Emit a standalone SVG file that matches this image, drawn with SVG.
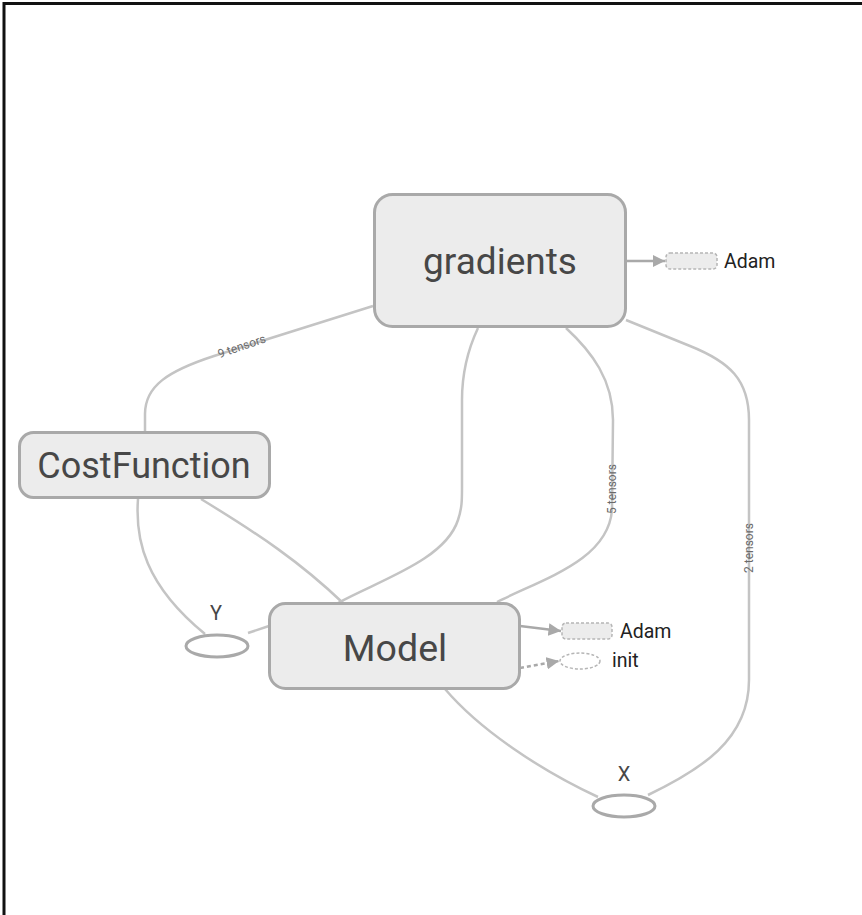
<svg xmlns="http://www.w3.org/2000/svg" width="862" height="915" viewBox="0 0 862 915">
  <style>
    .node { fill: #ececec; stroke: #a9a9a9; stroke-width: 3; }
    .label { font-family: Roboto, "Liberation Sans", sans-serif; fill: #474747; text-anchor: middle; }
    .small { font-family: Roboto, "Liberation Sans", sans-serif; fill: #222; font-size: 19.5px; }
    .edge { fill: none; stroke: #c4c4c4; stroke-width: 2.5; }
    .ctrl { fill: none; stroke: #a9a9a9; stroke-width: 2.5; }
    .dash { fill: #ececec; stroke: #b5b5b5; stroke-width: 1.5; stroke-dasharray: 3 2; }
    .elabel { font-family: Roboto, "Liberation Sans", sans-serif; fill: #6a6a6a; font-size: 12px; text-anchor: middle; }
    .io { fill: #fff; stroke: #a9a9a9; stroke-width: 3; }
  </style>
  <defs>
    <marker id="arrow" viewBox="0 0 10 10" refX="10" refY="5" markerWidth="5" markerHeight="5" orient="auto" markerUnits="strokeWidth">
      <path d="M0,0 L10,5 L0,10 z" fill="#a9a9a9"/>
    </marker>
  </defs>

  <rect width="862" height="915" fill="#fff"/>
  <!-- frame -->
  <path d="M4,915 L4,3.5 L862,3.5" fill="none" stroke="#111" stroke-width="3"/>

  <g id="connectors">
    <path class="edge" d="M145,432 L145,414 C145,386 168,371 214,356 L373,306"/>
    <path class="edge" d="M338,603 C380,580 445,560 458,520 C462,508 462,500 462,488 L462,400 C462,370 470,345 478,328"/>
    <path class="edge" d="M497,602 C545,578 608,560 612,510 L613,420 C613,380 592,352 566,328"/>
    <path class="edge" d="M648,795 C700,770 749,740 749,680 L749,420 C749,380 730,362 690,346 L626,320"/>
    <path class="edge" d="M138,499 C135,540 145,585 205,634"/>
    <path class="edge" d="M201,499 C260,535 300,562 343,603"/>
    <path class="edge" d="M248,633 L269,626"/>
    <path class="edge" d="M445,689 C480,730 540,770 598,797"/>

    <path class="ctrl" d="M626,261 L665,261" marker-end="url(#arrow)"/>
    <path class="ctrl" d="M520,626 L561,631" marker-end="url(#arrow)"/>
    <path class="ctrl" d="M520,668 L559,661" stroke-dasharray="4 3" stroke="#b5b5b5" marker-end="url(#arrow)"/>

    <text class="elabel" transform="translate(243,350) rotate(-19)">9 tensors</text>
    <text class="elabel" transform="translate(616,489) rotate(-90)">5 tensors</text>
    <text class="elabel" transform="translate(753,548) rotate(-90)">2 tensors</text>
  </g>

  <g id="gradients">
    <rect class="node" x="374.5" y="194.5" width="251" height="132" rx="18"/>
    <text class="label" x="500" y="274" font-size="37">gradients</text>
  </g>

  <g id="adam-gradients">
    <rect class="dash" x="666" y="253" width="51" height="16" rx="4"/>
    <text class="small" x="724" y="268">Adam</text>
  </g>

  <g id="CostFunction">
    <rect class="node" x="19.5" y="432.5" width="250" height="65" rx="14"/>
    <text class="label" x="144" y="478" font-size="36">CostFunction</text>
  </g>

  <g id="Model">
    <rect class="node" x="269.5" y="603.5" width="250" height="85" rx="16"/>
    <text class="label" x="395" y="661" font-size="37.5">Model</text>
  </g>

  <g id="adam-model">
    <rect class="dash" x="562" y="623" width="50" height="16" rx="4"/>
    <text class="small" x="620" y="638">Adam</text>
  </g>

  <g id="init">
    <ellipse class="dash" cx="580" cy="661" rx="20" ry="8" style="fill:#fff"/>
    <text class="small" x="612" y="667">init</text>
  </g>

  <g id="Y">
    <ellipse class="io" cx="217" cy="646" rx="31" ry="11"/>
    <text class="label" x="216" y="620" font-size="20">Y</text>
  </g>

  <g id="X">
    <ellipse class="io" cx="624" cy="806" rx="31" ry="11"/>
    <text class="label" x="624" y="781" font-size="20">X</text>
  </g>
</svg>
